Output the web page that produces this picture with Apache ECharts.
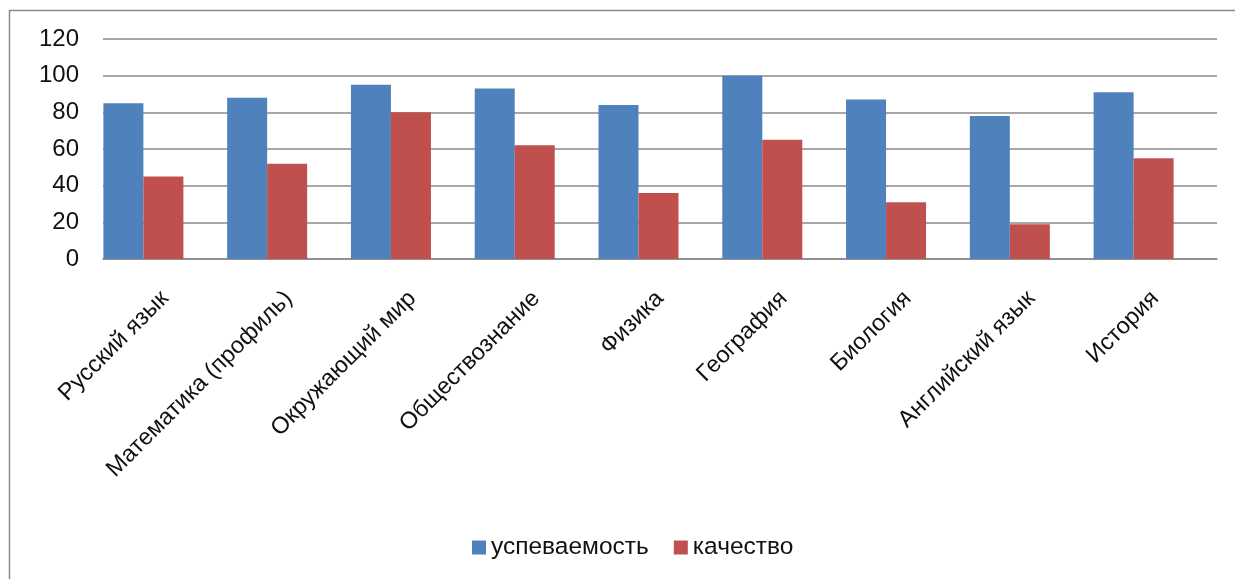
<!DOCTYPE html>
<html>
<head>
<meta charset="utf-8">
<script src="https://cdn.jsdelivr.net/npm/echarts@6/dist/echarts.min.js"></script>
<style>
html,body{margin:0;padding:0;background:#fff;}
#c{width:1235px;height:579px;}
</style>
</head>
<body>
<div id="c"></div>
<script>
const categories = ['Русский язык','Математика (профиль)','Окружающий мир','Обществознание','Физика','География','Биология','Английский язык','История'];
const seriesNames = ['успеваемость','качество'];
const uspevaemost = [85, 88, 95, 93, 84, 100, 87, 78, 91];
const kachestvo = [45, 52, 80, 62, 36, 65, 31, 19, 55];
const yTicks = {min: 0, max: 120, interval: 20};

const FONT = 'Liberation Sans';
const chart = echarts.init(document.getElementById('c'));
chart.setOption({
  animation: false,
  backgroundColor: '#fff',
  graphic: [{
    type: 'rect', left: 7, top: 8, z: -10,
    shape: {width: 1400, height: 800},
    style: {fill: 'none', stroke: '#8a8a8a', lineWidth: 1.5}
  }],
  legend: {
    data: seriesNames,
    left: 467, top: 530,
    icon: 'rect', itemWidth: 14, itemHeight: 14, itemGap: 25,
    textStyle: {fontFamily: FONT, fontSize: 24.5, color: '#111'}
  },
  grid: [
    {left: 103, top: 39, width: 1114, height: 220},
    {left: 81.5, top: 39, width: 1114, height: 220}
  ],
  xAxis: [
    {type: 'category', gridIndex: 0, data: categories,
     axisLine: {show: true, lineStyle: {color: '#8a8a8a', width: 1.5}},
     axisTick: {show: false},
     axisLabel: {rotate: 45, margin: 36, interval: 0, fontFamily: FONT, fontSize: 23.5, color: '#111'}},
    {type: 'category', gridIndex: 1, data: categories, show: false}
  ],
  yAxis: [
    {type: 'value', gridIndex: 0, min: yTicks.min, max: yTicks.max, interval: yTicks.interval,
     axisLine: {show: false}, axisTick: {show: false},
     axisLabel: {margin: 24, fontFamily: FONT, fontSize: 24, color: '#111'},
     splitLine: {lineStyle: {color: '#8a8a8a', width: 1.5}}},
    {type: 'value', gridIndex: 1, min: yTicks.min, max: yTicks.max, interval: yTicks.interval, show: false,
     splitLine: {show: false}}
  ],
  series: [
    {name: seriesNames[0], type: 'bar', xAxisIndex: 1, yAxisIndex: 1, data: uspevaemost,
     barWidth: 40, barGap: '0%', itemStyle: {color: '#4F81BD'}},
    {name: seriesNames[1], type: 'bar', xAxisIndex: 1, yAxisIndex: 1, data: kachestvo,
     barWidth: 40, barGap: '0%', itemStyle: {color: '#C0504D'}}
  ]
});
</script>
</body>
</html>
